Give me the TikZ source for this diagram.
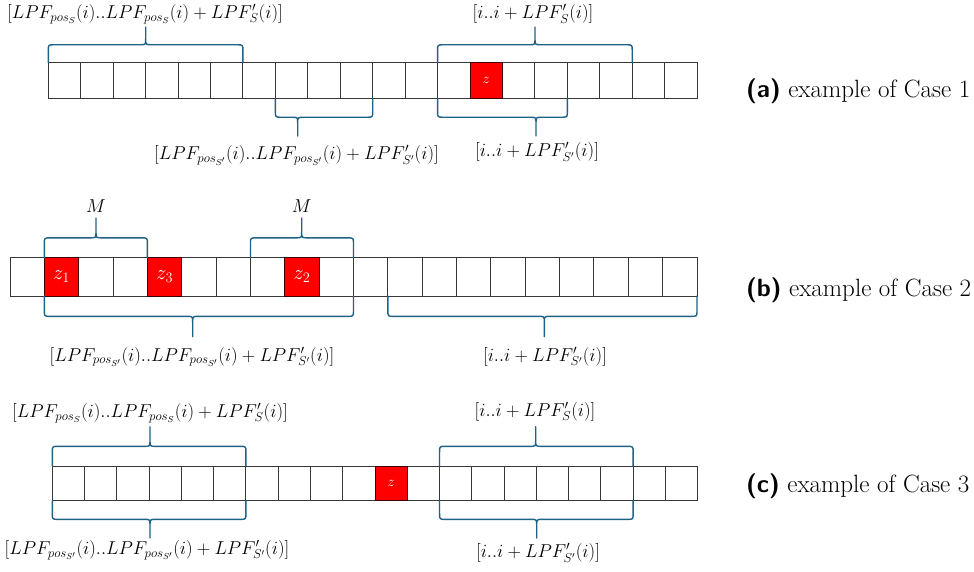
\documentclass[tikz,border=0pt]{standalone}
\usetikzlibrary{calc}
\definecolor{bracecol}{RGB}{31,98,133}
\definecolor{cellline}{RGB}{55,55,55}
\tikzset{
  cell/.style={draw=cellline, line width=1pt, inner sep=0pt, outer sep=0pt},
  hot/.style={cell, fill=red, draw=black!75!red, text=white},
  brc/.style={draw=bracecol, line width=1.4pt, line join=round, line cap=round},
  lbl/.style={inner sep=0pt, font=\fontsize{17}{20}\selectfont},
  captext/.style={anchor=west, inner sep=0pt, font=\fontsize{25}{28}\selectfont},
  acell/.style={cell, minimum width=32.44pt, minimum height=36pt},
  bcell/.style={cell, minimum width=34.35pt, minimum height=38.3pt},
  ccell/.style={cell, minimum width=32.27pt, minimum height=34.7pt},
}
\newcommand\lm[1]{\scalebox{1.08}{$#1$}}
\newcommand\hbrace[3]{%
  \draw[brc] let \p1=(#1), \p2=(#2), \p3=(#3),
    \n1={(\y1+\y3)/2}, \n2={ifthenelse(\y3>\y1,6,-6)},
    \n3={\n1-(\n2)}, \n4={\n1+(\n2)} in
    (\x1,\y1) -- (\x1,{\n3*1pt}) .. controls (\x1,{\n1*1pt}) .. ({\x1+6pt},{\n1*1pt})
    -- ({\x3-6pt},{\n1*1pt}) .. controls (\x3,{\n1*1pt}) .. (\x3,{\n4*1pt}) -- (\x3,\y3)
    (\x3,{\n4*1pt}) .. controls (\x3,{\n1*1pt}) .. ({\x3+6pt},{\n1*1pt})
    -- ({\x2-6pt},{\n1*1pt}) .. controls (\x2,{\n1*1pt}) .. (\x2,{\n3*1pt}) -- (\x2,\y2);}
\begin{document}
\begin{tikzpicture}[x=1pt,y=-1pt]
\useasboundingbox (0,0) rectangle (974,571);

% ---------- row (a)
\foreach \k in {0,...,19}
  \node[acell] (a\k) at ({48.3+32.44*(\k+0.5)},80.5) {};
\node[hot, minimum width=32.44pt, minimum height=36pt, font=\fontsize{15}{17}\selectfont] (za) at (a13) {$z$};

\coordinate (ta1) at (145.7,27);
\coordinate (ta2) at (535,27);
\coordinate (ta3) at (297.7,136);
\coordinate (ta4) at (536,136);
\hbrace{a0.north west}{a5.north east}{ta1}
\hbrace{a12.north west}{a17.north east}{ta2}
\hbrace{a7.south west}{a9.south east}{ta3}
\hbrace{a12.south west}{a15.south east}{ta4}

\node[lbl] (la1) at (145,14) {\lm{\bigl[LPF_{pos_S}(i)..LPF_{pos_S}(i)+LPF'_S(i)\bigr]}};
\node[lbl] (la2) at (533,14) {\lm{[i..i+LPF'_S(i)]}};
\node[lbl] (la3) at (296.5,155.5) {\lm{\bigl[LPF_{pos_{S'}}(i)..LPF_{pos_{S'}}(i)+LPF'_{S'}(i)\bigr]}};
\node[lbl] (la4) at (537,152) {\lm{[i..i+LPF'_{S'}(i)]}};

\node[captext] (ca) at (746,91.7) {\textsf{\textbf{(a)}} example of Case 1};

% ---------- row (b)
\foreach \k in {0,...,19}
  \node[bcell] (b\k) at ({10+34.35*(\k+0.5)},276.85) {};
\node[hot, minimum width=34.35pt, minimum height=38.3pt, font=\fontsize{20}{22}\selectfont] (zb1) at (b1) {$z_1$};
\node[hot, minimum width=34.35pt, minimum height=38.3pt, font=\fontsize{20}{22}\selectfont] (zb3) at (b4) {$z_3$};
\node[hot, minimum width=34.35pt, minimum height=38.3pt, font=\fontsize{20}{22}\selectfont] (zb2) at (b8) {$z_2$};

\coordinate (tb1) at (96,218);
\coordinate (tb2) at (301.7,218);
\coordinate (tb3) at (192.7,336.7);
\coordinate (tb4) at (544.3,336.7);
\hbrace{b1.north west}{b3.north east}{tb1}
\hbrace{b7.north west}{b9.north east}{tb2}
\hbrace{b1.south west}{b9.south east}{tb3}
\hbrace{b11.south west}{b19.south east}{tb4}

\node[lbl] (lb1) at (96,205.7) {\lm{M}};
\node[lbl] (lb2) at (301.7,205.7) {\lm{M}};
\node[lbl] (lb3) at (192,357) {\lm{\bigl[LPF_{pos_{S'}}(i)..LPF_{pos_{S'}}(i)+LPF'_{S'}(i)\bigr]}};
\node[lbl] (lb4) at (545,356.7) {\lm{[i..i+LPF'_{S'}(i)]}};

\node[captext] (cb) at (746,290) {\textsf{\textbf{(b)}} example of Case 2};

% ---------- row (c)
\foreach \k in {0,...,19}
  \node[ccell] (c\k) at ({52.3+32.27*(\k+0.5)},483.35) {};
\node[hot, minimum width=32.27pt, minimum height=34.7pt, font=\fontsize{15}{17}\selectfont] (zc) at (c10) {$z$};

\coordinate (tc1) at (150,426.7);
\coordinate (tc2) at (150,538);
\coordinate (tc3) at (535.7,426.7);
\coordinate (tc4) at (536.7,538);
\hbrace{c0.north west}{c5.north east}{tc1}
\hbrace{c0.south west}{c5.south east}{tc2}
\hbrace{c12.north west}{c17.north east}{tc3}
\hbrace{c12.south west}{c17.south east}{tc4}

\node[lbl] (lc1) at (150,413) {\lm{\bigl[LPF_{pos_S}(i)..LPF_{pos_S}(i)+LPF'_S(i)\bigr]}};
\node[lbl] (lc2) at (147,550) {\lm{\bigl[LPF_{pos_{S'}}(i)..LPF_{pos_{S'}}(i)+LPF'_{S'}(i)\bigr]}};
\node[lbl] (lc3) at (535,411.7) {\lm{[i..i+LPF'_S(i)]}};
\node[lbl] (lc4) at (538,553) {\lm{[i..i+LPF'_{S'}(i)]}};

\node[captext] (cc) at (746,486.7) {\textsf{\textbf{(c)}} example of Case 3};
\end{tikzpicture}
\end{document}
